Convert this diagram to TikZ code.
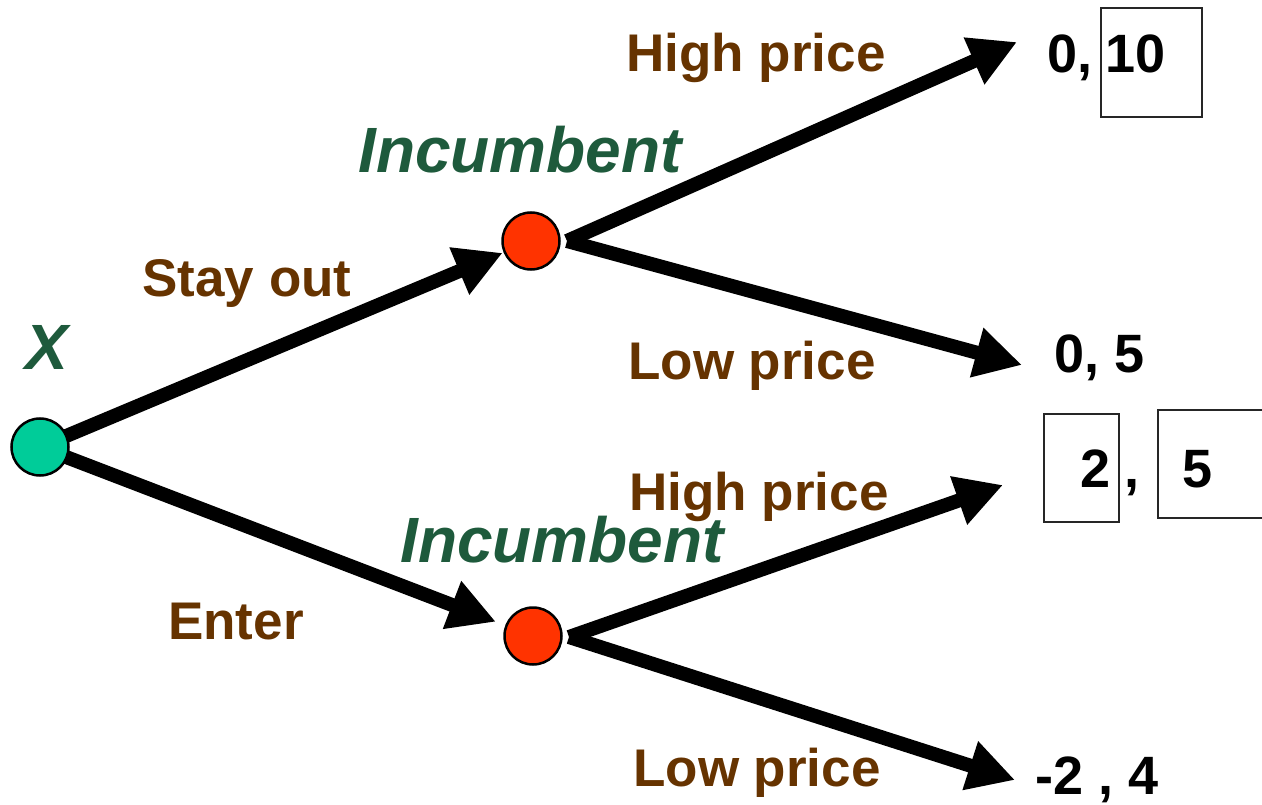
\documentclass[tikz,border=0pt]{standalone}
\usepackage{fontspec}
\setmainfont{Liberation Sans}
\usetikzlibrary{arrows.meta}
\definecolor{brn}{HTML}{663300}
\definecolor{dgr}{HTML}{1E5A3C}
\definecolor{teal1}{HTML}{00CC99}
\definecolor{red1}{HTML}{FF3300}
\begin{document}
\begin{tikzpicture}[x=1pt,y=-1pt,
  movelbl/.style={text=brn,font=\fontsize{53}{60}\selectfont\bfseries,inner sep=0pt},
  player/.style={text=dgr,font=\fontsize{64}{70}\selectfont\bfseries\itshape,inner sep=0pt},
  payoff/.style={font=\fontsize{54}{60}\selectfont\bfseries,inner sep=0pt,anchor=base west},
  dnode/.style={circle,draw=black,line width=2.5pt,minimum size=57pt,inner sep=0pt},
  branch/.style={line width=14pt,-{Triangle[length=47pt,width=48pt]}},
  pbox/.style={draw=black!85,line width=2pt}]
\useasboundingbox (0,0) rectangle (1262,805);

% decision nodes
\node[dnode,fill=teal1] (r) at (40,447) {};
\node[dnode,fill=red1] (i1) at (531,241) {};
\node[dnode,fill=red1] (i2) at (533,636) {};

% branch start points and tips
\coordinate (s1) at (567,241);
\coordinate (s2) at (569,637);
\coordinate (t11) at (1017,42);
\coordinate (t12) at (1022,365);
\coordinate (t21) at (1003,485);
\coordinate (t22) at (1015,780);

\draw[branch,shorten <=-2pt,shorten >=1pt] (r) -- (i1);
\draw[branch,shorten <=-2pt,shorten >=10pt] (r) -- (i2);
\draw[branch] (s1) -- (t11);
\draw[branch] (s1) -- (t12);
\draw[branch] (s2) -- (t21);
\draw[branch] (s2) -- (t22);

% labels
\node[player] (lx) at (47,347) {X};
\node[player] (li1) at (520,150) {Incumbent};
\node[player] (li2) at (562,540) {Incumbent};
\node[movelbl] (lso) at (247,283) {Stay out};
\node[movelbl] (len) at (236,622) {Enter};
\node[movelbl] (lh1) at (756,58) {High price};
\node[movelbl] (ll1) at (752,366) {Low price};
\node[movelbl] (lh2) at (759,497) {High price};
\node[movelbl] (ll2) at (757,773) {Low price};

% payoffs
\node[payoff] (p1a) at (1047,73) {0,};
\node[payoff] (p1b) at (1105,73) {10};
\draw[pbox] (1101,8) rectangle (1202,117);
\node[payoff] (p2) at (1054,372) {0, 5};
\node[payoff] (p3a) at (1080,487) {2};
\node[payoff] (p3c) at (1124,487) {,};
\node[payoff] (p3b) at (1182,487) {5};
\draw[pbox] (1044,414) rectangle (1119,522);
\draw[pbox] (1158,410) rectangle (1266,518);
\node[payoff] (p4) at (1035,794) {-2 , 4};
\end{tikzpicture}
\end{document}
